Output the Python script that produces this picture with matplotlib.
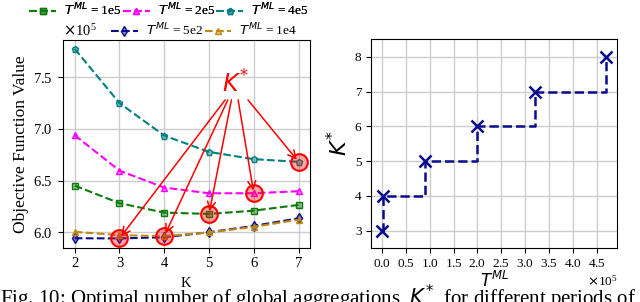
import matplotlib
matplotlib.use("Agg")
import matplotlib.pyplot as plt
import numpy as np

plt.rcParams['font.family'] = ['Liberation Serif', 'DejaVu Serif']
plt.rcParams['mathtext.fontset'] = 'dejavusans'

# ---- data ----
K = [2, 3, 4, 5, 6, 7]
obj_1e5 = [6.451, 6.281, 6.190, 6.177, 6.209, 6.264]
obj_2e5 = [6.939, 6.596, 6.432, 6.377, 6.377, 6.397]
obj_4e5 = [7.774, 7.249, 6.935, 6.777, 6.707, 6.681]
obj_5e2 = [5.942, 5.940, 5.952, 6.000, 6.061, 6.135]
obj_1e4 = [6.004, 5.972, 5.962, 5.998, 6.052, 6.122]
kstar_K = [3, 4, 5, 6, 7]
kstar_val = [5.940, 5.962, 6.177, 6.377, 6.681]

T_ML = [5e2, 1.5e3, 8.9e4, 2e5, 3.2e5, 4.7e5]
K_opt = [3, 4, 5, 6, 7, 8]

series = [
    (obj_1e5, "1e5", "#0a7a0a", "s"),
    (obj_2e5, "2e5", "#ff00ff", "^"),
    (obj_4e5, "4e5", "#008080", "p"),
    (obj_5e2, "5e2", "#0a0a8c", "d"),
    (obj_1e4, "1e4", "#c08a10", "^"),
]

fig = plt.figure(figsize=(6.4, 3.02), dpi=100)
ax1 = fig.add_axes([0.098, 0.180, 0.386, 0.688])
ax2 = fig.add_axes([0.580, 0.178, 0.3845, 0.692])

handles = []
for vals, lab, col, mk in series:
    fc = matplotlib.colors.to_rgba(col, 0.45)
    h, = ax1.plot(np.array(K), np.array(vals) * 1e5, linestyle='--', color=col, lw=1.5,
                  marker=mk, ms=5, mfc=fc, mec=col, mew=1.0,
                  label=r"$T^{ML}$ = " + lab, zorder=3)
    handles.append(h)

ax1.plot(np.array(kstar_K), np.array(kstar_val) * 1e5, linestyle='none', marker='o', ms=12,
         mfc=(1, 0, 0, 0.35), mec='red', mew=1.5, zorder=4)

txt_x, txt_y = 5.58, 7.43e5
ax1.text(txt_x, txt_y, r"$K^{*}$", color='red', fontsize=17, ha='center', va='center', zorder=6)
starts = [5.36, 5.42, 5.50, 5.65, 5.87]
for sx, kx, kv in zip(starts, kstar_K, kstar_val):
    ax1.annotate("", xy=(kx, kv * 1e5), xytext=(sx, 7.28e5),
                 arrowprops=dict(arrowstyle='->', color='red', lw=1.1,
                                 mutation_scale=14, shrinkA=0, shrinkB=2), zorder=5)

ax1.set_xlim(1.732, 7.25)
ax1.set_ylim(5.851e5, 7.861e5)
ax1.set_xticks(K)
ax1.set_yticks([6.0e5, 6.5e5, 7.0e5, 7.5e5])
ax1.ticklabel_format(axis='y', style='sci', scilimits=(5, 5), useMathText=True)
ax1.yaxis.get_offset_text().set_fontsize(10.5)
ax1.grid(True, color='#cccccc', lw=1.0)
ax1.set_axisbelow(True)
ax1.tick_params(labelsize=10.5)
ax1.set_xlabel("K", fontsize=10.5, labelpad=5)
ax1.set_ylabel("Objective Function Value", fontsize=12.5, labelpad=3)

leg1 = fig.legend(handles=handles[:3], ncol=3, loc='center', bbox_to_anchor=(0.264, 0.966),
                  frameon=False, fontsize=9.6, columnspacing=0.1, handlelength=2.0,
                  handletextpad=0.6, borderpad=0.1)
fig.add_artist(leg1)
leg2 = fig.legend(handles=handles[3:], ncol=2, loc='center', bbox_to_anchor=(0.319, 0.900),
                  frameon=False, fontsize=9.6, columnspacing=0.1, handlelength=2.0,
                  handletextpad=0.6, borderpad=0.1)

# right plot
ax2.step(np.array(T_ML), K_opt, where='post', linestyle='--', color='#0a0a8c', lw=1.8, zorder=3)
ax2.plot(np.array(T_ML), K_opt, linestyle='none', marker='x', ms=8, mew=1.8, color='#0a0a8c', zorder=4)
ax2.set_ylim(2.5, 8.5)
ax2.set_xticks(np.arange(0, 4.51e5, 0.5e5))
ax2.set_yticks([3, 4, 5, 6, 7, 8])
ax2.ticklabel_format(axis='x', style='sci', scilimits=(5, 5), useMathText=True)
ax2.xaxis.get_offset_text().set_fontsize(9.5)
ax2.grid(True, color='#cccccc', lw=1.0)
ax2.set_axisbelow(True)
ax2.tick_params(labelsize=9.5)
ax2.set_xlabel(r"$T^{ML}$", fontsize=12, labelpad=1)
ax2.set_ylabel(r"$K^{*}$", fontsize=16, labelpad=2)

fig.text(0.0, -0.012, r"Fig. 10: Optimal number of global aggregations, $K^{*}$, for different periods of",
         fontsize=15, ha='left', va='baseline')

fig.savefig("out.png", dpi=100)
